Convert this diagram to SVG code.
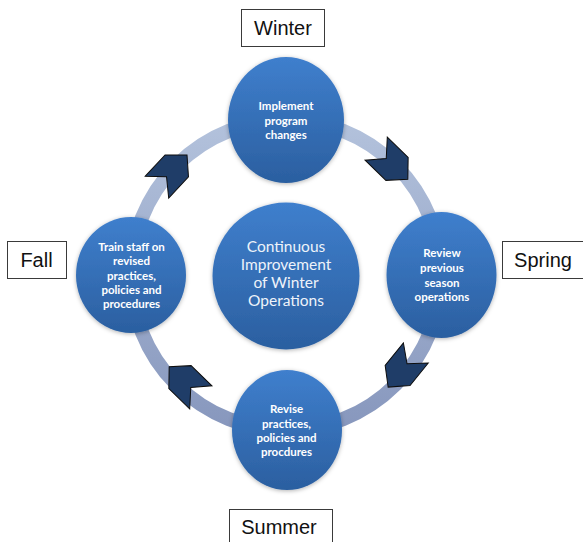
<svg xmlns="http://www.w3.org/2000/svg" width="583" height="542" viewBox="0 0 583 542">
<defs>
<linearGradient id="blue" x1="0" y1="0" x2="0" y2="1">
<stop offset="0" stop-color="#3f7fcd"/>
<stop offset="1" stop-color="#2b5fa0"/>
</linearGradient>
<linearGradient id="ringg" x1="0" y1="0" x2="0" y2="1">
<stop offset="0" stop-color="#b3c2dc"/>
<stop offset="1" stop-color="#8797bd"/>
</linearGradient>
<filter id="sh" x="-20%" y="-20%" width="140%" height="140%">
<feDropShadow dx="0" dy="1" stdDeviation="2" flood-color="#000" flood-opacity="0.3"/>
</filter>
<polygon id="chev" points="-22,-16 7,-16 22,0 7,16 -22,16 -8,0"/>
</defs>
<style>
.node{fill:url(#blue);filter:url(#sh)}
.small{font-family:Lato,"Open Sans",sans-serif;font-size:11.5px;font-weight:700;fill:#ffffff;text-anchor:middle}
.big{font-family:Lato,"Open Sans",sans-serif;font-size:15.5px;fill:#eef3fa;text-anchor:middle}
.box{fill:#ffffff;stroke:#3a3a3a;stroke-width:1}
.lbl{font-family:"Liberation Sans",Arial,sans-serif;font-size:20px;fill:#111;text-anchor:middle}
.arr{fill:#1f3d68;stroke:#0d0d0d;stroke-width:1}
</style>
<rect width="583" height="542" fill="#ffffff"/>
<g id="connectors">
<circle cx="286" cy="275" r="155" fill="none" stroke="url(#ringg)" stroke-width="14"/>
<use href="#chev" class="arr" transform="translate(172,171) rotate(-47)"/>
<use href="#chev" class="arr" transform="translate(392,164) rotate(44)"/>
<use href="#chev" class="arr" transform="translate(402,370) rotate(129)"/>
<use href="#chev" class="arr" transform="translate(185,382) rotate(224)"/>
</g>
<g id="center">
<circle class="node" cx="286" cy="276" r="73.5"/>
<text class="big"><tspan x="286" y="252">Continuous</tspan><tspan x="286" y="270">Improvement</tspan><tspan x="286" y="288">of Winter</tspan><tspan x="286" y="306">Operations</tspan></text>
</g>
<g id="winter-node">
<ellipse class="node" cx="286" cy="120" rx="58" ry="63"/>
<text class="small"><tspan x="286" y="110">Implement</tspan><tspan x="286" y="124.5">program</tspan><tspan x="286" y="139">changes</tspan></text>
</g>
<g id="spring-node">
<ellipse class="node" cx="441.5" cy="275" rx="55" ry="63"/>
<text class="small"><tspan x="442" y="257">Review</tspan><tspan x="442" y="272">previous</tspan><tspan x="442" y="286.5">season</tspan><tspan x="442" y="301">operations</tspan></text>
</g>
<g id="summer-node">
<ellipse class="node" cx="287" cy="430" rx="55" ry="60"/>
<text class="small"><tspan x="286.5" y="413">Revise</tspan><tspan x="286.5" y="427.5">practices,</tspan><tspan x="286.5" y="441.5">policies and</tspan><tspan x="286.5" y="455.5">procdures</tspan></text>
</g>
<g id="fall-node">
<ellipse class="node" cx="131" cy="275" rx="55" ry="58"/>
<text class="small"><tspan x="131.5" y="250.5">Train staff on</tspan><tspan x="131.5" y="265">revised</tspan><tspan x="131.5" y="279.5">practices,</tspan><tspan x="131.5" y="293.5">policies and</tspan><tspan x="131.5" y="308">procedures</tspan></text>
</g>
<g id="label-winter">
<rect class="box" x="241.5" y="9.5" width="83" height="37"/>
<text class="lbl" x="283" y="35">Winter</text>
</g>
<g id="label-spring">
<rect class="box" x="502.5" y="241.5" width="90" height="37"/>
<text class="lbl" x="543" y="267">Spring</text>
</g>
<g id="label-summer">
<rect class="box" x="229.5" y="509.5" width="103" height="40"/>
<text class="lbl" x="279" y="534">Summer</text>
</g>
<g id="label-fall">
<rect class="box" x="7.5" y="241.5" width="59" height="37"/>
<text class="lbl" x="36.5" y="267">Fall</text>
</g>
</svg>
